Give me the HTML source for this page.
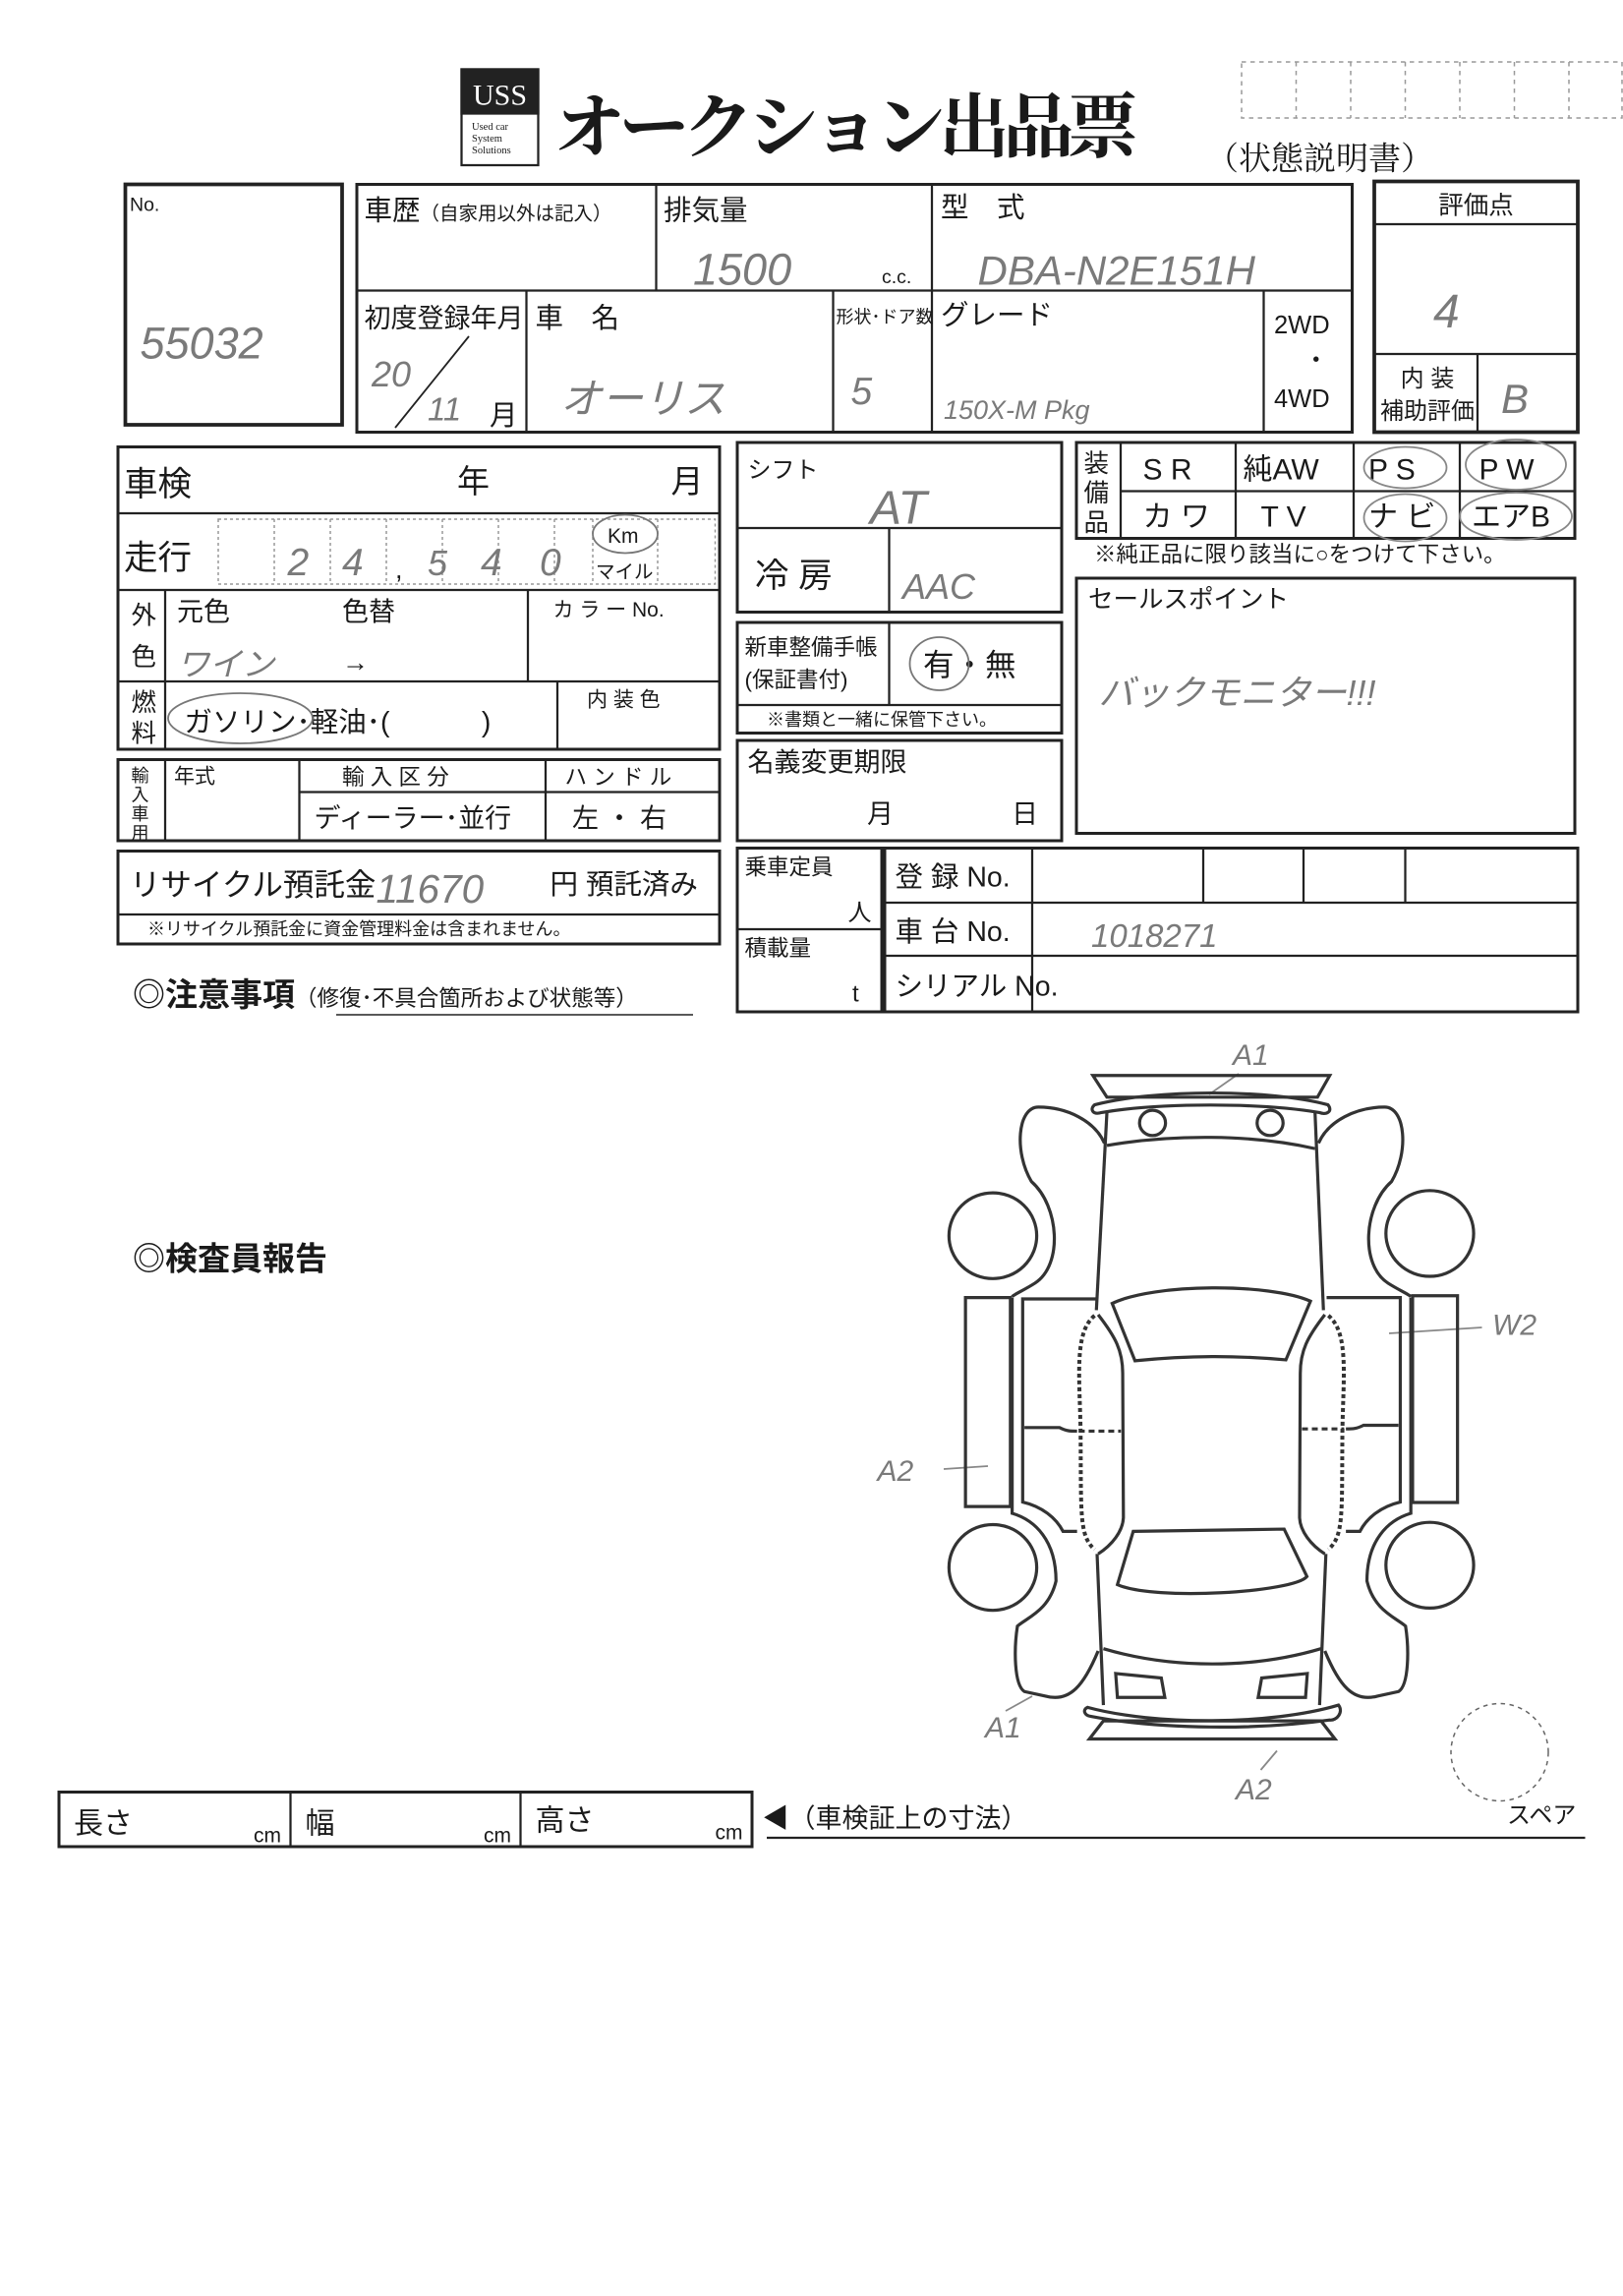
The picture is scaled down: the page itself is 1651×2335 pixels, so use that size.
<!DOCTYPE html>
<html><head><meta charset="utf-8"><style>
html,body{margin:0;padding:0;background:#fff;}
svg{display:block;}
text{font-family:"Liberation Sans","Noto Sans CJK JP",sans-serif;fill:#1a1a1a;}
.h{fill:#7a7a7a;font-family:"Liberation Sans","Noto Sans CJK JP",sans-serif;font-style:italic;}
.car *{vector-effect:non-scaling-stroke;}
</style></head><body>
<svg width="1651" height="2335" viewBox="0 0 1651 2335" xmlns="http://www.w3.org/2000/svg">
<rect width="1651" height="2335" fill="#fff"/>
<g transform="scale(1.5)" stroke="#222" fill="none" stroke-width="1.5">
<rect x="313" y="47" width="52" height="65" stroke-width="1.5"/>
<rect x="313" y="47" width="52" height="30" fill="#222"/>
<text x="339" y="71" font-size="20" text-anchor="middle" stroke="none" style="fill:#fff;font-family:'Liberation Serif',serif">USS</text>
<text x="320" y="88" font-size="7" stroke="none" style="font-family:'Liberation Serif',serif">Used car</text>
<text x="320" y="96" font-size="7" stroke="none" style="font-family:'Liberation Serif',serif">System</text>
<text x="320" y="104" font-size="7" stroke="none" style="font-family:'Liberation Serif',serif">Solutions</text>
<text x="376" y="103" font-size="48" stroke="none" style="font-family:'Noto Serif CJK SC','Noto Sans CJK JP',serif;font-weight:bold" textLength="396">オークション出品票</text>
<text x="818" y="115" font-size="22" stroke="none" style="font-family:'Noto Serif CJK SC',serif">（状態説明書）</text>
<g stroke="#999" stroke-dasharray="3,3" stroke-width="1"><rect x="842" y="42" width="258" height="38"/>
<line x1="879" y1="42" x2="879" y2="80"/><line x1="916" y1="42" x2="916" y2="80"/><line x1="953" y1="42" x2="953" y2="80"/><line x1="990" y1="42" x2="990" y2="80"/><line x1="1027" y1="42" x2="1027" y2="80"/><line x1="1064" y1="42" x2="1064" y2="80"/></g>

<rect x="85" y="125" width="147" height="163" stroke-width="2.5"/>
<text x="88" y="143" font-size="13" stroke="none">No.</text>
<text class="h" x="95" y="243" font-size="30" stroke="none">55032</text>

<rect x="242" y="125" width="675" height="168" stroke-width="2"/>
<line x1="242" y1="197" x2="917" y2="197"/>
<line x1="445" y1="125" x2="445" y2="197"/><line x1="632" y1="125" x2="632" y2="293"/>
<line x1="357" y1="197" x2="357" y2="293"/><line x1="565" y1="197" x2="565" y2="293"/><line x1="857" y1="197" x2="857" y2="293"/>
<text x="247" y="149" font-size="19" stroke="none">車歴<tspan font-size="13">（自家用以外は記入）</tspan></text>
<text x="450" y="149" font-size="19" stroke="none">排気量</text>
<text class="h" x="470" y="193" font-size="30" stroke="none">1500</text>
<text x="598" y="192" font-size="13" stroke="none">c.c.</text>
<text x="638" y="147" font-size="19" stroke="none">型　式</text>
<text class="h" x="663" y="193" font-size="28" stroke="none">DBA-N2E151H</text>
<text x="247" y="222" font-size="18" stroke="none">初度登録年月</text>
<text x="363" y="222" font-size="19" stroke="none">車　名</text>
<text x="567" y="219" font-size="12" stroke="none">形状･ドア数</text>
<text x="638" y="220" font-size="19" stroke="none">グレード</text>
<text x="864" y="226" font-size="17" stroke="none">2WD</text>
<text x="884" y="250" font-size="17" stroke="none">・</text>
<text x="864" y="276" font-size="17" stroke="none">4WD</text>
<text class="h" x="252" y="262" font-size="24" stroke="none">20</text>
<line x1="268" y1="290" x2="318" y2="228" stroke-width="1.2"/>
<text class="h" x="290" y="285" font-size="22" stroke="none">11</text>
<text x="332" y="288" font-size="19" stroke="none">月</text>
<text class="h" x="380" y="280" font-size="28" stroke="none">オーリス</text>
<text class="h" x="577" y="274" font-size="26" stroke="none">5</text>
<text class="h" x="640" y="284" font-size="18" stroke="none">150X-M Pkg</text>

<rect x="932" y="123" width="138" height="170" stroke-width="2.5"/>
<line x1="932" y1="152" x2="1070" y2="152"/><line x1="932" y1="240" x2="1070" y2="240"/>
<line x1="1002" y1="240" x2="1002" y2="293"/>
<text x="1001" y="145" font-size="17" text-anchor="middle" stroke="none">評価点</text>
<text class="h" x="972" y="222" font-size="32" stroke="none">4</text>
<text x="968" y="262" font-size="16" text-anchor="middle" stroke="none">内 装</text>
<text x="968" y="284" font-size="16" text-anchor="middle" stroke="none">補助評価</text>
<text class="h" x="1018" y="280" font-size="28" stroke="none">B</text>

<rect x="80" y="303" width="408" height="205" stroke-width="2"/>
<line x1="80" y1="348" x2="488" y2="348"/><line x1="80" y1="400" x2="488" y2="400"/><line x1="80" y1="462" x2="488" y2="462"/>
<line x1="112" y1="400" x2="112" y2="508"/><line x1="358" y1="400" x2="358" y2="462"/><line x1="378" y1="462" x2="378" y2="508"/>
<text x="84" y="336" font-size="23" stroke="none">車検</text>
<text x="310" y="334" font-size="22" stroke="none">年</text>
<text x="455" y="334" font-size="22" stroke="none">月</text>
<text x="84" y="386" font-size="23" stroke="none">走行</text>
<g stroke="#999" stroke-dasharray="2,2" stroke-width="1"><rect x="148" y="352" width="337" height="44"/>
<line x1="186" y1="352" x2="186" y2="396"/><line x1="224" y1="352" x2="224" y2="396"/><line x1="262" y1="352" x2="262" y2="396"/><line x1="300" y1="352" x2="300" y2="396"/><line x1="338" y1="352" x2="338" y2="396"/><line x1="376" y1="352" x2="376" y2="396"/><line x1="402" y1="352" x2="402" y2="396"/><line x1="446" y1="352" x2="446" y2="396"/></g>
<text class="h" x="195" y="390" font-size="26" stroke="none">2</text><text class="h" x="232" y="390" font-size="26" stroke="none">4</text>
<text x="268" y="392" font-size="18" stroke="none">,</text>
<text class="h" x="290" y="390" font-size="24" stroke="none">5</text><text class="h" x="326" y="390" font-size="26" stroke="none">4</text><text class="h" x="366" y="390" font-size="26" stroke="none">0</text>
<text x="412" y="368" font-size="14" stroke="none">Km</text>
<ellipse cx="424" cy="362" rx="22" ry="13" stroke="#777" stroke-width="1.2"/>
<text x="404" y="392" font-size="13" stroke="none">マイル</text>
<text x="89" y="423" font-size="17" stroke="none">外</text><text x="89" y="451" font-size="17" stroke="none">色</text>
<text x="120" y="421" font-size="18" stroke="none">元色</text><text x="232" y="421" font-size="18" stroke="none">色替</text>
<text x="375" y="418" font-size="14" stroke="none">カ ラ ー No.</text>
<text class="h" x="120" y="458" font-size="22" stroke="none">ワイン</text>
<text x="232" y="455" font-size="18" stroke="none">→</text>
<text x="89" y="482" font-size="17" stroke="none">燃</text><text x="89" y="503" font-size="17" stroke="none">料</text>
<text x="125" y="496" font-size="19" stroke="none">ガソリン･軽油･(　　　 )</text>
<ellipse cx="163" cy="487" rx="49" ry="17" stroke="#777" stroke-width="1.2"/>
<text x="398" y="479" font-size="14" stroke="none">内 装 色</text>

<rect x="80" y="515" width="408" height="55" stroke-width="2"/>
<line x1="112" y1="515" x2="112" y2="570"/><line x1="203" y1="515" x2="203" y2="570"/><line x1="370" y1="515" x2="370" y2="570"/><line x1="203" y1="537" x2="488" y2="537"/>
<text x="89" y="530" font-size="12" stroke="none">輸</text><text x="89" y="543" font-size="12" stroke="none">入</text><text x="89" y="556" font-size="12" stroke="none">車</text><text x="89" y="569" font-size="12" stroke="none">用</text>
<text x="118" y="531" font-size="14" stroke="none">年式</text>
<text x="232" y="532" font-size="15" stroke="none">輸 入 区 分</text>
<text x="383" y="532" font-size="15" stroke="none">ハ ン ド ル</text>
<text x="213" y="561" font-size="18" stroke="none">ディーラー･並行</text>
<text x="388" y="561" font-size="18" stroke="none">左 ・ 右</text>

<rect x="80" y="577" width="408" height="63" stroke-width="2"/>
<line x1="80" y1="620" x2="488" y2="620"/>
<text x="88" y="607" font-size="21" stroke="none">リサイクル預託金</text>
<text class="h" x="255" y="612" font-size="27" stroke="none">11670</text>
<text x="373" y="606" font-size="19" stroke="none">円 預託済み</text>
<text x="100" y="634" font-size="12" stroke="none">※リサイクル預託金に資金管理料金は含まれません。</text>

<text x="90" y="682" font-size="22" stroke="none" font-weight="bold">◎注意事項<tspan font-size="15" font-weight="normal">（修復･不具合箇所および状態等）</tspan></text>
<line x1="228" y1="688" x2="470" y2="688" stroke-width="1"/>
<text x="90" y="861" font-size="22" stroke="none" font-weight="bold">◎検査員報告</text>

<rect x="500" y="300" width="220" height="115" stroke-width="2"/>
<line x1="500" y1="358" x2="720" y2="358"/><line x1="603" y1="358" x2="603" y2="415"/>
<text x="507" y="324" font-size="16" stroke="none">シフト</text>
<text class="h" x="590" y="355" font-size="32" stroke="none">AT</text>
<text x="512" y="398" font-size="23" stroke="none">冷 房</text>
<text class="h" x="612" y="406" font-size="24" stroke="none">AAC</text>
<rect x="500" y="422" width="220" height="75" stroke-width="2"/>
<line x1="500" y1="478" x2="720" y2="478"/><line x1="603" y1="422" x2="603" y2="478"/>
<text x="505" y="444" font-size="15" stroke="none">新車整備手帳</text>
<text x="505" y="466" font-size="15" stroke="none">(保証書付)</text>
<text x="626" y="458" font-size="21" stroke="none">有・無</text>
<ellipse cx="637" cy="450" rx="20" ry="18" stroke="#777" stroke-width="1.2"/>
<text x="520" y="492" font-size="12" stroke="none">※書類と一緒に保管下さい。</text>
<rect x="500" y="502" width="220" height="68" stroke-width="2"/>
<text x="507" y="523" font-size="18" stroke="none">名義変更期限</text>
<text x="588" y="558" font-size="18" stroke="none">月</text><text x="686" y="558" font-size="18" stroke="none">日</text>

<rect x="730" y="300" width="338" height="65" stroke-width="2"/>
<line x1="760" y1="300" x2="760" y2="365"/><line x1="838" y1="300" x2="838" y2="365"/><line x1="918" y1="300" x2="918" y2="365"/><line x1="990" y1="300" x2="990" y2="365"/>
<line x1="760" y1="333" x2="1068" y2="333"/>
<text x="735" y="320" font-size="17" stroke="none">装</text><text x="735" y="340" font-size="17" stroke="none">備</text><text x="735" y="360" font-size="17" stroke="none">品</text>
<text x="775" y="325" font-size="20" stroke="none">S  R</text><text x="843" y="325" font-size="20" stroke="none">純AW</text>
<text x="928" y="325" font-size="20" stroke="none">P  S</text><text x="1003" y="325" font-size="20" stroke="none">P  W</text>
<text x="775" y="357" font-size="20" stroke="none">カ ワ</text><text x="855" y="357" font-size="20" stroke="none">T  V</text>
<text x="928" y="357" font-size="20" stroke="none">ナ ビ</text><text x="998" y="357" font-size="20" stroke="none">エアB</text>
<g stroke="#888" stroke-width="1.2"><ellipse cx="953" cy="317" rx="28" ry="14"/><ellipse cx="1028" cy="315" rx="34" ry="17"/><ellipse cx="953" cy="351" rx="28" ry="16"/><ellipse cx="1028" cy="350" rx="38" ry="16"/></g>
<text x="742" y="381" font-size="15" stroke="none">※純正品に限り該当に○をつけて下さい。</text>
<rect x="730" y="392" width="338" height="173" stroke-width="2"/>
<text x="738" y="412" font-size="17" stroke="none">セールスポイント</text>
<text class="h" x="745" y="478" font-size="24" stroke="none">バックモニター!!!</text>

<rect x="500" y="575" width="98" height="111" stroke-width="2"/>
<line x1="500" y1="630" x2="598" y2="630"/>
<text x="505" y="593" font-size="15" stroke="none">乗車定員</text>
<text x="575" y="624" font-size="16" stroke="none">人</text>
<text x="505" y="648" font-size="15" stroke="none">積載量</text>
<text x="578" y="679" font-size="16" stroke="none">t</text>
<rect x="600" y="575" width="470" height="111" stroke-width="2"/>
<line x1="600" y1="612" x2="1070" y2="612"/><line x1="600" y1="648" x2="1070" y2="648"/><line x1="700" y1="575" x2="700" y2="686"/>
<line x1="816" y1="575" x2="816" y2="612"/><line x1="884" y1="575" x2="884" y2="612"/><line x1="953" y1="575" x2="953" y2="612"/>
<text x="607" y="601" font-size="19" stroke="none">登 録 No.</text>
<text x="607" y="638" font-size="19" stroke="none">車 台 No.</text>
<text x="607" y="675" font-size="19" stroke="none">シリアル No.</text>
<text class="h" x="740" y="642" font-size="22" stroke="none">1018271</text>

<g stroke="#888" stroke-width="1.2">
<line x1="820" y1="742" x2="840" y2="728"/><line x1="942" y1="904" x2="1005" y2="900"/>
<line x1="640" y1="996" x2="670" y2="994"/><line x1="682" y1="1160" x2="700" y2="1150"/><line x1="855" y1="1200" x2="866" y2="1187"/></g>
<text class="h" x="836" y="722" font-size="20" stroke="none">A1</text>
<text class="h" x="1012" y="905" font-size="20" stroke="none">W2</text>
<text class="h" x="595" y="1004" font-size="20" stroke="none">A2</text>
<text class="h" x="668" y="1178" font-size="20" stroke="none">A1</text>
<text class="h" x="838" y="1220" font-size="20" stroke="none">A2</text>
<circle cx="1017" cy="1188" r="33" stroke="#666" stroke-dasharray="3,3" stroke-width="1"/>
<text x="1022" y="1236" font-size="16" stroke="none">スペア</text>

<rect x="40" y="1215" width="470" height="37" stroke-width="2"/>
<line x1="197" y1="1215" x2="197" y2="1252"/><line x1="353" y1="1215" x2="353" y2="1252"/>
<text x="50" y="1243" font-size="20" stroke="none">長さ</text><text x="172" y="1249" font-size="14" stroke="none">cm</text>
<text x="207" y="1243" font-size="20" stroke="none">幅</text><text x="328" y="1249" font-size="14" stroke="none">cm</text>
<text x="363" y="1241" font-size="20" stroke="none">高さ</text><text x="485" y="1247" font-size="14" stroke="none">cm</text>
<text x="517" y="1239" font-size="18" stroke="none">◀（車検証上の寸法）</text>
<line x1="520" y1="1246" x2="1075" y2="1246"/>
</g>

<g class="car" transform="translate(960,1080) scale(0.357,0.459)" stroke="#333" stroke-width="3.2" fill="none">
<path d="M425,30 L1100,30 L1065,78 L465,78 Z"/>
<path d="M430,95 C600,60 930,60 1095,95 C1110,110 1090,118 1070,112 C900,90 620,90 450,112 C425,118 415,105 430,95 Z"/>
<ellipse cx="595" cy="135" rx="37" ry="28"/><ellipse cx="930" cy="135" rx="37" ry="28"/>
<path d="M465,185 C650,160 880,160 1058,192"/>
<path d="M465,112 L435,550"/><path d="M1058,112 L1082,550"/>
<path d="M458,180 C430,130 350,100 270,100 C210,100 200,200 250,265 C330,320 340,450 260,490 C230,505 200,515 195,520"/>
<path d="M1068,180 C1096,130 1176,100 1256,100 C1316,100 1326,200 1276,265 C1196,320 1186,450 1266,490 C1296,505 1326,515 1331,520"/>
<ellipse cx="140" cy="385" rx="125" ry="95"/><ellipse cx="1385" cy="380" rx="125" ry="95"/>
<ellipse cx="140" cy="1120" rx="125" ry="95"/><ellipse cx="1385" cy="1115" rx="125" ry="95"/>
<rect x="62" y="522" width="128" height="463"/><rect x="1336" y="518" width="128" height="458"/>
<path d="M195,522 L195,1000 C260,1015 320,1060 320,1150 C300,1215 240,1230 210,1250 C200,1300 200,1380 230,1395 L290,1405 C360,1420 400,1380 440,1305"/>
<path d="M1331,522 L1331,1000 C1266,1015 1206,1060 1206,1150 C1226,1215 1286,1230 1316,1250 C1326,1300 1326,1380 1296,1395 L1236,1405 C1166,1420 1126,1380 1086,1305"/>
<path d="M435,525 L225,525 L225,975 C280,985 320,1010 340,1040 L380,1040"/>
<path d="M1091,522 L1301,522 L1301,975 C1246,985 1206,1010 1186,1040 L1146,1040"/>
<path d="M230,810 L330,810 C350,818 360,818 380,818"/><path d="M1296,805 L1196,805 C1176,813 1166,813 1146,813"/>
<path d="M385,818 L505,818 M1021,813 L1141,813" stroke-dasharray="6,4"/>
<path d="M430,562 C370,600 388,700 390,820 C392,1000 385,1050 430,1080" stroke-dasharray="4,3" stroke-width="4"/>
<path d="M1096,562 C1156,600 1138,700 1136,820 C1134,1000 1141,1050 1096,1080" stroke-dasharray="4,3" stroke-width="4"/>
<path d="M440,560 C490,610 510,640 510,690 L512,1010 C510,1040 480,1070 440,1090"/>
<path d="M1086,560 C1036,610 1016,640 1016,690 L1014,1010 C1016,1040 1046,1070 1086,1090"/>
<path d="M480,535 C600,490 930,490 1045,530 L975,660 C830,650 700,650 545,662 Z"/>
<path d="M540,1040 L970,1035 L1035,1140 C1000,1175 600,1195 495,1158 Z"/>
<path d="M437,1090 L455,1425"/><path d="M1089,1090 L1071,1425"/>
<path d="M455,1300 C650,1345 880,1345 1075,1300"/>
<path d="M490,1355 L620,1365 L630,1408 L495,1408 Z"/><path d="M1036,1355 L906,1365 L896,1408 L1031,1408 Z"/>
<path d="M410,1430 C600,1470 930,1470 1125,1425 C1140,1440 1120,1460 1100,1458 C900,1480 620,1480 420,1450 C400,1448 395,1435 410,1430 Z"/>
<path d="M455,1460 L1075,1460 L1115,1500 L415,1500 Z"/>
</g>
</svg>
</body></html>
